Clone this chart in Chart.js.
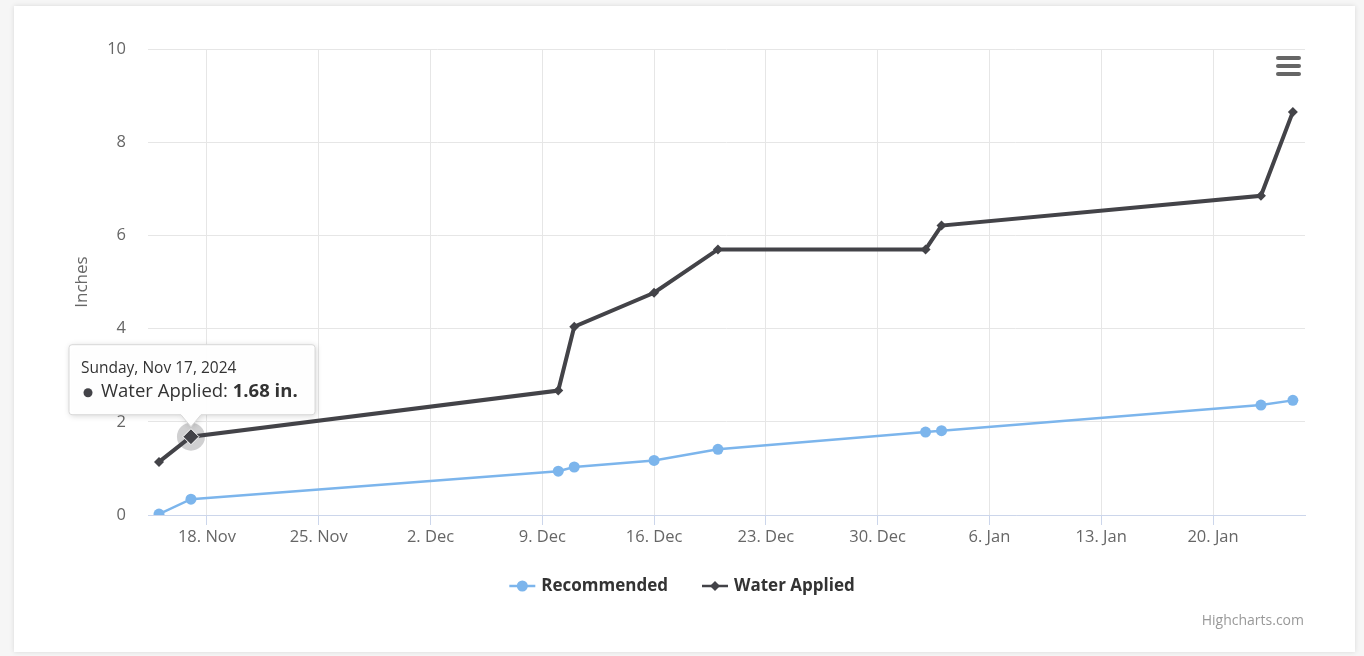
<!DOCTYPE html>
<html>
<head>
<meta charset="utf-8">
<script src="https://cdn.jsdelivr.net/npm/chart.js@4.4.1/dist/chart.umd.min.js"></script>
<style>
  html, body { margin: 0; padding: 0; width: 1364px; height: 656px; overflow: hidden; background: #f6f6f6; }
  #card { position: absolute; left: 14px; top: 6px; width: 1341px; height: 646px; background: #fff; box-shadow: 0 0 5px rgba(0,0,0,0.12); }
  #wrap { position: absolute; left: 0; top: 0; width: 1364px; height: 656px; }
  #menu { position: absolute; left: 1276px; top: 56px; width: 25px; }
  #menu span { display: block; height: 3.5px; border-radius: 2px; background: #666; margin-bottom: 4.5px; }
  #credit { position: absolute; right: 60px; top: 610px; font: 14px "Open Sans", sans-serif; color: #999; }
</style>
</head>
<body>
<div id="card"></div>
<div id="wrap"><canvas id="myChart" width="1364" height="656"></canvas></div>
<div id="menu"><span></span><span></span><span></span></div>
<div id="credit">Highcharts.com</div>
<script>
// data
const dates = ['2024-11-15','2024-11-17','2024-12-10','2024-12-11','2024-12-16','2024-12-20','2025-01-02','2025-01-03','2025-01-23','2025-01-25'];
const recommended = [0.02, 0.34, 0.94, 1.03, 1.17, 1.41, 1.78, 1.81, 2.36, 2.46];
const waterApplied = [1.14, 1.68, 2.67, 4.04, 4.77, 5.70, 5.70, 6.21, 6.85, 8.65];
const tickDates = ['2024-11-18','2024-11-25','2024-12-02','2024-12-09','2024-12-16','2024-12-23','2024-12-30','2025-01-06','2025-01-13','2025-01-20'];
const tickLabels = ['18. Nov','25. Nov','2. Dec','9. Dec','16. Dec','23. Dec','30. Dec','6. Jan','13. Jan','20. Jan'];
const seriesNames = ['Recommended', 'Water Applied'];
const seriesColors = ['#7cb5ec', '#434348'];
const tooltipIndex = 1; // Nov 17 point is hovered

const FONT = '"Open Sans", sans-serif';

function day(s) {
  const p = s.split('-').map(Number);
  return Date.UTC(p[0], p[1] - 1, p[2]) / 86400000;
}

function toPoints(vals) {
  return vals.map((v, i) => ({ x: day(dates[i]), y: v }));
}

// legend drawn like highcharts: line + marker, then bold label
const legendPlugin = {
  id: 'hcLegend',
  afterDraw(chart) {
    const ctx = chart.ctx;
    ctx.save();
    ctx.font = 'bold 17px ' + FONT;
    const symW = 26, gap = 6, itemGap = 34;
    const widths = seriesNames.map(n => symW + gap + ctx.measureText(n).width);
    const total = widths.reduce((a, b) => a + b, 0) + itemGap * (widths.length - 1);
    let x = chart.width / 2 - total / 2;
    const y = 586;
    seriesNames.forEach((name, i) => {
      ctx.strokeStyle = seriesColors[i];
      ctx.fillStyle = seriesColors[i];
      ctx.lineWidth = 2.5;
      ctx.beginPath();
      ctx.moveTo(x, y);
      ctx.lineTo(x + symW, y);
      ctx.stroke();
      const cx = x + symW / 2;
      ctx.beginPath();
      if (i === 0) {
        ctx.arc(cx, y, 5.5, 0, Math.PI * 2);
      } else {
        ctx.moveTo(cx, y - 5); ctx.lineTo(cx + 5, y); ctx.lineTo(cx, y + 5); ctx.lineTo(cx - 5, y);
        ctx.closePath();
      }
      ctx.fill();
      ctx.fillStyle = '#333';
      ctx.textBaseline = 'middle';
      ctx.fillText(name, x + symW + gap, y);
      x += widths[i] + itemGap;
    });
    ctx.restore();
  }
};

// static hover state + tooltip on Water Applied, Nov 17
const tooltipPlugin = {
  id: 'hcTooltip',
  afterDatasetsDraw(chart) {
    const pt = chart.getDatasetMeta(1).data[tooltipIndex];
    const ctx = chart.ctx;
    ctx.save();
    ctx.fillStyle = 'rgba(67,67,72,0.25)';
    ctx.beginPath();
    ctx.arc(pt.x, pt.y, 14, 0, Math.PI * 2);
    ctx.fill();
    const r = 8;
    ctx.beginPath();
    ctx.moveTo(pt.x, pt.y - r); ctx.lineTo(pt.x + r, pt.y); ctx.lineTo(pt.x, pt.y + r); ctx.lineTo(pt.x - r, pt.y);
    ctx.closePath();
    ctx.fillStyle = seriesColors[1];
    ctx.fill();
    ctx.strokeStyle = '#fff';
    ctx.lineWidth = 1;
    ctx.stroke();
    ctx.restore();
  },
  afterDraw(chart) {
    const pt = chart.getDatasetMeta(1).data[tooltipIndex];
    const ctx = chart.ctx;
    const d = new Date(day(dates[tooltipIndex]) * 86400000);
    const title = d.toLocaleDateString('en-US', { weekday: 'long', month: 'short', day: 'numeric', year: 'numeric', timeZone: 'UTC' });
    const label = seriesNames[1] + ': ';
    const value = waterApplied[tooltipIndex].toFixed(2) + ' in.';

    const bx = 69, bw = 246, bh = 70;
    const tipY = pt.y - 10;
    const by = tipY - 12 - bh;
    ctx.save();
    ctx.beginPath();
    const rad = 3;
    ctx.moveTo(bx + rad, by);
    ctx.lineTo(bx + bw - rad, by);
    ctx.quadraticCurveTo(bx + bw, by, bx + bw, by + rad);
    ctx.lineTo(bx + bw, by + bh - rad);
    ctx.quadraticCurveTo(bx + bw, by + bh, bx + bw - rad, by + bh);
    ctx.lineTo(pt.x + 10, by + bh);
    ctx.lineTo(pt.x, tipY);
    ctx.lineTo(pt.x - 10, by + bh);
    ctx.lineTo(bx + rad, by + bh);
    ctx.quadraticCurveTo(bx, by + bh, bx, by + bh - rad);
    ctx.lineTo(bx, by + rad);
    ctx.quadraticCurveTo(bx, by, bx + rad, by);
    ctx.closePath();
    ctx.shadowColor = 'rgba(0,0,0,0.18)';
    ctx.shadowBlur = 6;
    ctx.shadowOffsetX = 1;
    ctx.shadowOffsetY = 1;
    ctx.fillStyle = 'rgba(255,255,255,0.97)';
    ctx.fill();
    ctx.shadowColor = 'transparent';
    ctx.strokeStyle = '#d8d8d8';
    ctx.lineWidth = 1;
    ctx.stroke();

    ctx.textBaseline = 'middle';
    ctx.fillStyle = '#333';
    ctx.font = '15.5px ' + FONT;
    ctx.fillText(title, bx + 12, by + 24);
    const ly = by + 47;
    ctx.fillStyle = seriesColors[1];
    ctx.beginPath();
    ctx.arc(bx + 19, ly + 1, 4.5, 0, Math.PI * 2);
    ctx.fill();
    ctx.fillStyle = '#333';
    ctx.font = '18.5px ' + FONT;
    ctx.fillText(label, bx + 32, ly);
    const lw = ctx.measureText(label).width;
    ctx.font = 'bold 18.5px ' + FONT;
    ctx.fillText(value, bx + 32 + lw, ly);
    ctx.restore();
  }
};

const options = {
  responsive: false,
  animation: false,
  events: [],
  layout: { padding: { left: 62, top: 49, right: 59, bottom: 101 } },
  plugins: {
    legend: { display: false },
    tooltip: { enabled: false }
  },
  scales: {
    x: {
      type: 'linear',
      min: day(dates[0]) - 0.69,
      max: day(dates[dates.length - 1]) + 0.76,
      afterBuildTicks: s => { s.ticks = tickDates.map(t => ({ value: day(t) })); },
      afterFit: s => { s.height = 40; },
      grid: { color: '#e6e6e6', tickColor: '#ccd6eb', tickLength: 10, drawTicks: true },
      border: { color: '#ccd6eb', width: 1 },
      ticks: {
        autoSkip: false, maxRotation: 0, padding: 2,
        color: '#666', font: { size: 16.5, family: FONT },
        callback: (v, i) => tickLabels[i]
      }
    },
    y: {
      min: 0,
      max: 10,
      afterFit: s => { s.width = 86; },
      grid: { color: '#e6e6e6', drawTicks: false },
      border: { display: false },
      ticks: { stepSize: 2, padding: 22, color: '#666', font: { size: 16.5, family: FONT } },
      title: { display: true, text: 'Inches', color: '#666', font: { size: 17, family: FONT }, padding: { top: 10, bottom: 0 } }
    }
  }
};

const ctx = document.getElementById('myChart').getContext('2d');
const myChart = new Chart(ctx, {
  type: 'line',
  plugins: [legendPlugin, tooltipPlugin],
  data: {
    datasets: [{
      label: seriesNames[0],
      data: toPoints(recommended),
      borderColor: seriesColors[0],
      backgroundColor: seriesColors[0],
      borderWidth: 2.5,
      pointStyle: 'circle',
      pointRadius: 5.5,
      pointBorderWidth: 0,
      tension: 0
    }, {
      label: seriesNames[1],
      data: toPoints(waterApplied),
      borderColor: seriesColors[1],
      backgroundColor: seriesColors[1],
      borderWidth: 4,
      pointStyle: 'rectRot',
      pointRadius: 5,
      pointBorderWidth: 0,
      tension: 0
    }]
  },
  options: options
});
</script>
</body>
</html>
